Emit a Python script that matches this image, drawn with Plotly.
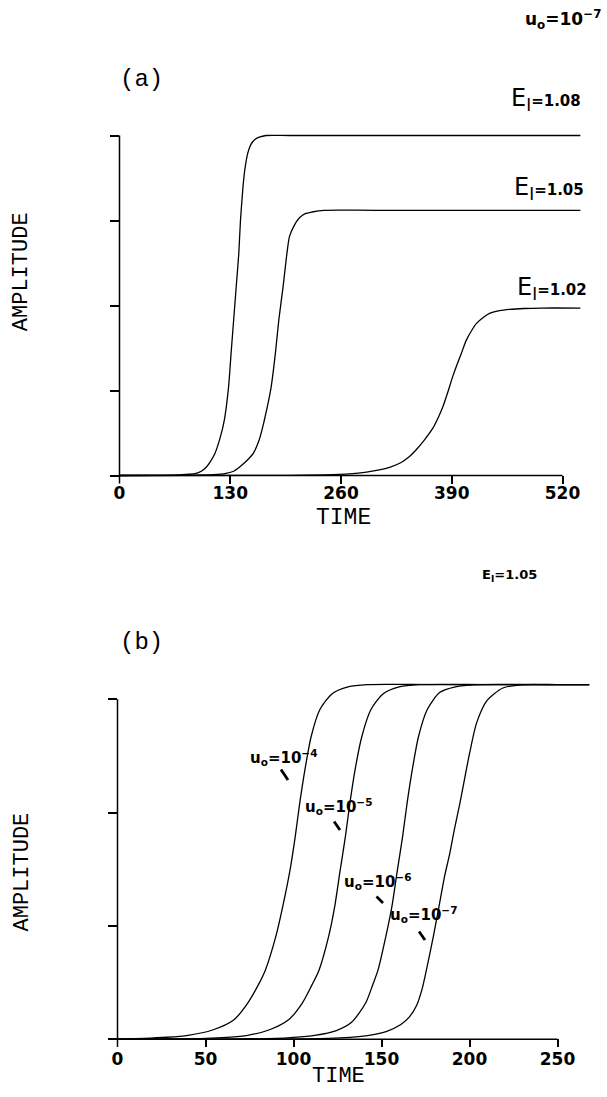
import plotly.graph_objects as go

# ---------------- data ----------------
# Panel (a): u0 = 1e-7, three values of E1  (time, amplitude)
time_a_108 = [0, 40, 70, 82, 90, 96, 102, 107, 112, 118, 123, 128, 131, 134, 137, 140, 142, 145,
              147, 150.5, 154, 158.5, 164, 172, 200, 541]
amp_a_108 = [0, 0.002, 0.008, 0.015, 0.026, 0.05, 0.10, 0.17, 0.26, 0.44, 0.65, 1.04, 1.44, 1.83,
             2.22, 2.61, 3.00, 3.40, 3.59, 3.79, 3.89, 3.95, 3.98, 4.00, 4.00, 4.00]

time_a_105 = [0, 80, 110, 125, 134, 141, 149, 157, 164, 170, 175, 178, 183, 187, 192, 196.5, 199.5,
              205, 211, 218, 226, 240, 300, 541]
amp_a_105 = [0, 0.002, 0.01, 0.026, 0.05, 0.10, 0.17, 0.26, 0.42, 0.65, 0.88, 1.04, 1.44, 1.83,
             2.22, 2.61, 2.81, 2.94, 3.03, 3.08, 3.10, 3.12, 3.12, 3.12]

time_a_102 = [0, 200, 240, 270, 290, 305, 318, 330, 340, 348, 358, 368, 375, 380, 386, 391, 396, 401,
              407, 413, 419, 427, 435, 446, 458, 475, 495, 541]
amp_a_102 = [0, 0.002, 0.008, 0.02, 0.04, 0.065, 0.10, 0.15, 0.22, 0.30, 0.42, 0.56, 0.70, 0.82,
             1.00, 1.16, 1.30, 1.43, 1.59, 1.70, 1.79, 1.86, 1.91, 1.94, 1.955, 1.965, 1.97, 1.97]

# Panel (b): E1 = 1.05, four values of u0
time_b_4 = [0, 15, 28, 40, 54, 66, 74, 80, 84, 90, 94, 98, 101, 103.5, 106.5, 110, 115, 122, 131,
            142, 180, 268]
amp_b_4 = [0.003, 0.008, 0.018, 0.035, 0.082, 0.17, 0.32, 0.48, 0.61, 0.91, 1.18, 1.49, 1.79, 2.08,
           2.38, 2.67, 2.91, 3.05, 3.11, 3.13, 3.13, 3.13]

time_b_5 = [0, 30, 50, 62, 74, 86, 97, 105, 110.5, 114.5, 120, 123.5, 126.5, 129.5, 132, 135, 138.8,
            144, 151, 160, 172, 210, 268]
amp_b_5 = [0.001, 0.003, 0.008, 0.017, 0.035, 0.082, 0.17, 0.32, 0.48, 0.61, 0.91, 1.18, 1.49, 1.79,
           2.08, 2.38, 2.67, 2.91, 3.05, 3.11, 3.13, 3.13, 3.13]

time_b_6 = [0, 60, 90, 100, 112, 124, 133, 141, 145, 148, 152.5, 156, 159, 162, 164.5, 167.5, 171,
            176, 183, 192, 204, 240, 268]
amp_b_6 = [0.0003, 0.002, 0.008, 0.017, 0.035, 0.075, 0.15, 0.32, 0.48, 0.61, 0.91, 1.18, 1.49, 1.79,
           2.08, 2.38, 2.67, 2.91, 3.06, 3.11, 3.13, 3.13, 3.13]

time_b_7 = [0, 90, 120, 132, 143, 153, 161, 166, 170, 173, 175.5, 179.5, 183, 186, 188.8, 191.5,
            194.5, 200, 204, 210, 219, 231, 250, 268]
amp_b_7 = [0.0001, 0.002, 0.008, 0.017, 0.035, 0.07, 0.13, 0.20, 0.30, 0.44, 0.61, 0.91, 1.20, 1.45,
           1.64, 1.86, 2.08, 2.52, 2.79, 2.99, 3.10, 3.13, 3.13, 3.13]

ticks_a_x = [0, 130, 260, 390, 520]
ticks_a_y = [0, 1, 2, 3, 4]
ticks_b_x = [0, 50, 100, 150, 200, 250]
ticks_b_y = [0, 1, 2, 3]

labels_a = ["1.08", "1.05", "1.02"]
labels_b = ["−4", "−5", "−6", "−7"]

# ---------------- layout geometry ----------------
W, H = 607, 1097
rng_ax = [0, 545]
rng_ay = [-0.094, 4.03]
rng_bx = [0, 270]
rng_by = [-0.068, 3.16]


def px(x):
    return x / W


def py(y):
    return 1 - y / H


def frac(v, r):
    return (v - r[0]) / (r[1] - r[0])


fig = go.Figure()
line = dict(color="black", width=1.3, shape="spline", smoothing=0.7)
for t, a in [(time_a_108, amp_a_108), (time_a_105, amp_a_105), (time_a_102, amp_a_102)]:
    fig.add_trace(go.Scatter(x=t, y=a, mode="lines", line=line, xaxis="x", yaxis="y",
                             showlegend=False, hoverinfo="skip"))
for t, a in [(time_b_4, amp_b_4), (time_b_5, amp_b_5), (time_b_6, amp_b_6), (time_b_7, amp_b_7)]:
    fig.add_trace(go.Scatter(x=t, y=a, mode="lines", line=line, xaxis="x2", yaxis="y2",
                             showlegend=False, hoverinfo="skip"))

tickfont = dict(family="DejaVu Sans", size=17, color="black", weight="bold")
common_x = dict(showline=False, showgrid=False, zeroline=False, ticks="inside", ticklen=8,
                tickwidth=1.5, tickcolor="black", tickfont=tickfont)
common_y = dict(showline=False, showgrid=False, zeroline=False, ticks="outside", ticklen=9,
                tickwidth=1.5, tickcolor="black", showticklabels=False)

fig.update_layout(
    width=W, height=H, margin=dict(l=0, r=0, t=0, b=0),
    template="none", paper_bgcolor="white", plot_bgcolor="white",
    font=dict(color="black"),
    xaxis=dict(domain=[px(119.5), px(583.8)], range=rng_ax, anchor="y",
               tickvals=ticks_a_x, ticklabelstandoff=-3, **common_x),
    yaxis=dict(domain=[py(483.5), py(132.95)], range=rng_ay, anchor="x",
               tickvals=ticks_a_y, **common_y),
    xaxis2=dict(domain=[px(117.5), px(592.7)], range=rng_bx, anchor="y2",
                tickvals=ticks_b_x, ticklabelstandoff=0, **common_x),
    yaxis2=dict(domain=[py(1047), py(681.2)], range=rng_by, anchor="x2",
                tickvals=ticks_b_y, **common_y),
)

# axis lines (drawn as shapes so they stop where the original ones stop)
ax_line = dict(color="black", width=1.5)
shapes = [
    dict(type="line", xref="x domain", yref="y domain", x0=0, x1=0,
         y0=0, y1=frac(ticks_a_y[-1], rng_ay), line=ax_line),
    dict(type="line", xref="x domain", yref="y domain", x0=0, x1=frac(ticks_a_x[-1], rng_ax),
         y0=frac(0, rng_ay), y1=frac(0, rng_ay), line=ax_line),
    dict(type="line", xref="x2 domain", yref="y2 domain", x0=0, x1=0,
         y0=0, y1=frac(ticks_b_y[-1], rng_by), line=ax_line),
    dict(type="line", xref="x2 domain", yref="y2 domain", x0=0, x1=frac(ticks_b_x[-1], rng_bx),
         y0=frac(0, rng_by), y1=frac(0, rng_by), line=ax_line),
]
fig.update_layout(shapes=shapes)

mono = "Liberation Mono"
bold = dict(family="DejaVu Sans", color="black", weight="bold")
ann = []


def text(x, y, s, font, xanchor="center", yanchor="middle", angle=0):
    ann.append(dict(xref="paper", yref="paper", x=px(x), y=py(y), text=s, showarrow=False,
                    font=font, xanchor=xanchor, yanchor=yanchor, textangle=angle))


# header labels
text(563, 20, "u<sub>o</sub>=10<sup>−7</sup>", dict(bold, size=17))
text(509, 575, "E<sub>I</sub>=1.05", dict(bold, size=13))
# panel letters
text(141.7, 79, "(a)", dict(family=mono, size=24, color="black"))
text(141.7, 642.5, "(b)", dict(family=mono, size=24, color="black"))
# axis titles
text(343, 518, "TIME", dict(family=mono, size=23, color="black"))
text(338, 1076, "TIME", dict(family=mono, size=22, color="black"))
text(21.5, 271.7, "AMPLITUDE", dict(family=mono, size=22, color="black"), angle=-90)
text(21.5, 872, "AMPLITUDE", dict(family=mono, size=22, color="black"), angle=-90)

# E1 labels in panel (a)
for (xr, yc), lab in zip([(583, 100), (586, 188), (589, 288)], labels_a):
    s = ('E<sub>I</sub><span style="font-family:DejaVu Sans;font-weight:bold;font-size:15px">='
         + lab + '</span>')
    text(xr, yc, s, dict(family="DejaVu Sans", size=24, color="black"), xanchor="right")

# u0 labels with their short leader strokes in panel (b)
u_pos = [(248, 757), (303, 806), (342, 881), (388, 914)]
leaders = [((280, 768), (288, 780)), ((333, 820), (340, 830)),
           ((375, 895), (383, 903)), ((418, 930), (425, 940))]
for (xl, yc), lab, (p0, p1) in zip(u_pos, labels_b, leaders):
    text(xl, yc, "u<sub>o</sub>=10<sup>" + lab + "</sup>", dict(bold, size=15), xanchor="left")
    ann.append(dict(xref="paper", yref="paper", x=px(p1[0]), y=py(p1[1]), text="",
                    showarrow=True, arrowhead=0, arrowwidth=2.8, arrowcolor="black",
                    ax=p0[0] - p1[0], ay=p0[1] - p1[1], standoff=0, startstandoff=0))

fig.update_layout(annotations=ann)

fig.write_html("out.html", include_plotlyjs=True, config={"displayModeBar": False},
               post_script="document.body.style.margin='0';document.body.style.overflow='hidden';")
